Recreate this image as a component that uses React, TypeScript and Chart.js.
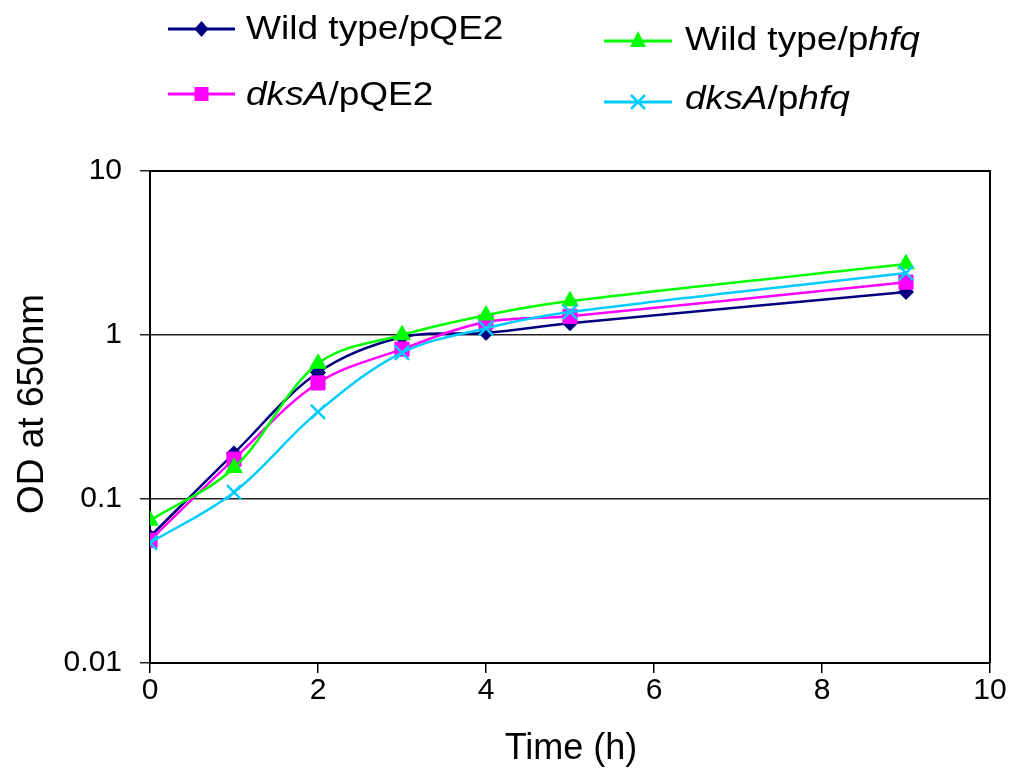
import React, { useEffect, useRef } from "react";
import { Chart, registerables } from "chart.js";

Chart.register(...registerables);

// ---- data ----
const times = [0, 1, 2, 3, 4, 5, 9];
const wtPQE2 = [0.059, 0.19, 0.59, 0.97, 1.03, 1.18, 1.83];
const dksAPQE2 = [0.056, 0.175, 0.51, 0.82, 1.2, 1.3, 2.1];
const wtPhfq = [0.074, 0.155, 0.67, 1.0, 1.32, 1.61, 2.71];
const dksAPhfq = [0.054, 0.11, 0.34, 0.78, 1.1, 1.38, 2.39];
const yTickValues = [0.01, 0.1, 1, 10];
const yTickLabels = ["0.01", "0.1", "1", "10"];
const xTicks = [0, 2, 4, 6, 8, 10];
const xTitle = "Time (h)";
const yTitle = "OD at 650nm";
const seriesNames = ["Wild type/pQE2", "dksA/pQE2", "Wild type/phfq", "dksA/phfq"];
// legend text split into [text, italic] segments
const legendSegments: [string, boolean][][] = [
  [["Wild type/pQE2", false]],
  [["dksA", true], ["/pQE2", false]],
  [["Wild type/p", false], ["hfq", true]],
  [["dksA", true], ["/p", false], ["hfq", true]],
];
const colors = ["#000080", "#FF00FF", "#00FF00", "#00CCFF"];
const markers = ["diamond", "square", "triangle", "x"];

const FONT = "'Liberation Sans', Arial, Helvetica, sans-serif";

function drawMarker(ctx: CanvasRenderingContext2D, kind: string, cx: number, cy: number, color: string) {
  ctx.save();
  ctx.fillStyle = color;
  ctx.strokeStyle = color;
  ctx.beginPath();
  if (kind === "diamond") {
    ctx.moveTo(cx, cy - 8);
    ctx.lineTo(cx + 7, cy);
    ctx.lineTo(cx, cy + 8);
    ctx.lineTo(cx - 7, cy);
    ctx.closePath();
    ctx.fill();
  } else if (kind === "square") {
    ctx.fillRect(cx - 7, cy - 7, 14, 14);
  } else if (kind === "triangle") {
    ctx.moveTo(cx, cy - 10);
    ctx.lineTo(cx + 8, cy + 6);
    ctx.lineTo(cx - 8, cy + 6);
    ctx.closePath();
    ctx.fill();
  } else {
    ctx.lineWidth = 2.5;
    ctx.moveTo(cx - 7, cy - 7);
    ctx.lineTo(cx + 7, cy + 7);
    ctx.moveTo(cx + 7, cy - 7);
    ctx.lineTo(cx - 7, cy + 7);
    ctx.stroke();
  }
  ctx.restore();
}

const legendLayout = [
  { x1: 168, x2: 235, y: 29, tx: 246, base: 39 },
  { x1: 168, x2: 235, y: 94, tx: 246, base: 105 },
  { x1: 604, x2: 672, y: 41, tx: 685, base: 50 },
  { x1: 604, x2: 672, y: 102, tx: 685, base: 109 },
];

const framePlugin = {
  id: "frameAndLegend",
  afterDraw(chart: any) {
    const ctx: CanvasRenderingContext2D = chart.ctx;
    const a = chart.chartArea;
    ctx.save();
    ctx.strokeStyle = "#000";
    ctx.lineWidth = 2;
    ctx.beginPath();
    ctx.moveTo(a.left, a.top);
    ctx.lineTo(a.right, a.top);
    ctx.lineTo(a.right, a.bottom);
    ctx.stroke();
    ctx.restore();

    // axis titles
    ctx.save();
    ctx.fillStyle = "#000";
    ctx.font = `36px ${FONT}`;
    ctx.textAlign = "center";
    ctx.textBaseline = "alphabetic";
    ctx.fillText(xTitle, 571, 759);
    ctx.translate(43, 404);
    ctx.rotate(-Math.PI / 2);
    ctx.font = `37px ${FONT}`;
    ctx.fillText(yTitle, 0, 0);
    ctx.restore();

    // legend
    seriesNames.forEach((_, i) => {
      const L = legendLayout[i];
      ctx.save();
      ctx.strokeStyle = colors[i];
      ctx.lineWidth = 3;
      ctx.beginPath();
      ctx.moveTo(L.x1, L.y);
      ctx.lineTo(L.x2, L.y);
      ctx.stroke();
      ctx.restore();
      drawMarker(ctx, markers[i], (L.x1 + L.x2) / 2, L.y, colors[i]);
      ctx.save();
      ctx.translate(L.tx, L.base);
      ctx.scale(1.09, 1);
      ctx.fillStyle = "#000";
      ctx.textBaseline = "alphabetic";
      ctx.textAlign = "left";
      let x = 0;
      for (const [t, it] of legendSegments[i]) {
        ctx.font = `${it ? "italic " : ""}34px ${FONT}`;
        ctx.fillText(t, x, 0);
        x += ctx.measureText(t).width;
      }
      ctx.restore();
    });
  },
};

export default function App() {
  const ref = useRef<HTMLCanvasElement>(null);
  useEffect(() => {
    if (!ref.current) return;
    const series = [wtPQE2, dksAPQE2, wtPhfq, dksAPhfq];
    const styles = ["rectRot", "rect", "triangle", "crossRot"];
    const radii = [7.5, 10, 9.5, 10];
    const orders = [3, 2, 1, 0];
    const chart = new Chart(ref.current, {
      type: "line",
      data: {
        datasets: series.map((vals, i) => ({
          label: seriesNames[i],
          data: times.map((t, j) => ({ x: t, y: vals[j] })),
          borderColor: colors[i],
          backgroundColor: colors[i],
          pointBackgroundColor: colors[i],
          pointBorderColor: colors[i],
          pointStyle: styles[i] as any,
          pointRadius: radii[i],
          pointBorderWidth: i === 3 ? 2.5 : 1,
          borderWidth: 2.5,
          tension: 0.35,
          fill: false,
          order: orders[i],
        })),
      },
      options: {
        animation: false,
        responsive: false,
        maintainAspectRatio: false,
        layout: { padding: { top: 171, right: 22, left: 0, bottom: 0 } },
        plugins: { legend: { display: false }, tooltip: { enabled: false } },
        scales: {
          x: {
            type: "linear",
            min: 0,
            max: 10,
            afterFit: (s: any) => {
              s.height = 106;
            },
            afterBuildTicks: (s: any) => {
              s.ticks = xTicks.map((v) => ({ value: v }));
            },
            ticks: {
              color: "#000",
              font: { size: 30, family: FONT },
              padding: 0,
              maxRotation: 0,
              callback: (v: any) => String(v),
            },
            grid: { drawOnChartArea: false, drawTicks: true, tickLength: 10, color: "#000", lineWidth: 1.5 },
            border: { display: true, color: "#000", width: 2 },
            title: { display: false },
          },
          y: {
            type: "logarithmic",
            min: 0.01,
            max: 10,
            afterFit: (s: any) => {
              s.width = 150;
            },
            afterBuildTicks: (s: any) => {
              s.ticks = yTickValues.map((v) => ({ value: v }));
            },
            ticks: {
              color: "#000",
              font: { size: 30, family: FONT },
              padding: 18,
              callback: (v: any) => {
                const idx = yTickValues.findIndex((t) => Math.abs(t - v) < 1e-9);
                return idx >= 0 ? yTickLabels[idx] : "";
              },
            },
            grid: { drawOnChartArea: true, drawTicks: true, tickLength: 10, color: "#222", lineWidth: 1.5 },
            border: { display: true, color: "#000", width: 2 },
            title: { display: false },
          },
        },
      },
      plugins: [framePlugin],
    });
    return () => chart.destroy();
  }, []);
  return (
    <div style={{ position: "absolute", left: 0, top: 0, width: 1012, height: 769, background: "#fff" }}>
      <canvas ref={ref} width={1012} height={769} style={{ display: "block" }} />
    </div>
  );
}
